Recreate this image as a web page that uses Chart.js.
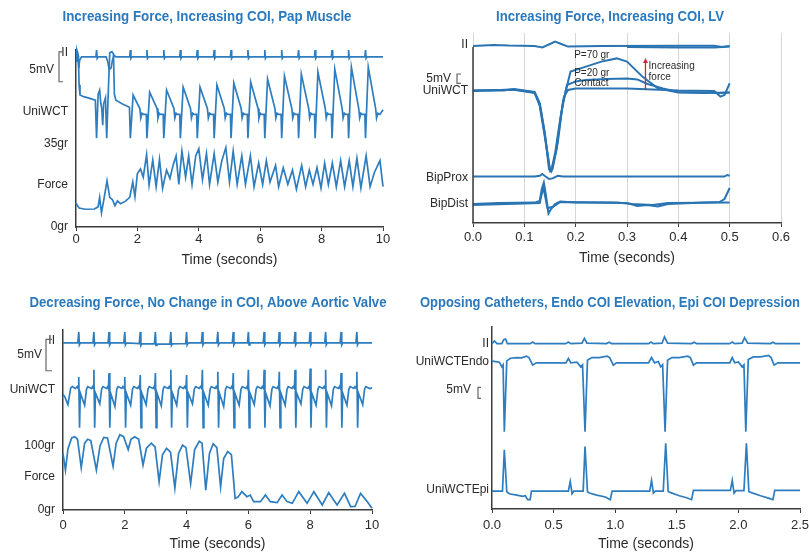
<!DOCTYPE html>
<html>
<head>
<meta charset="utf-8">
<title>Contact force and COI traces</title>
<script src="https://cdn.jsdelivr.net/npm/chart.js@4.4.0/dist/chart.umd.min.js"></script>
<style>
  body { margin: 0; background: #fff; }
  #page { position: relative; width: 809px; height: 553px; overflow: hidden; background: #fff; }
  canvas { position: absolute; }
</style>
</head>
<body>
<div id="page">
  <canvas id="pap" width="400" height="275" style="left:0;top:0"></canvas>
  <canvas id="lv" width="409" height="275" style="left:400px;top:0"></canvas>
  <canvas id="aortic" width="400" height="273" style="left:0;top:280px"></canvas>
  <canvas id="opposing" width="420" height="273" style="left:400px;top:280px"></canvas>
</div>
<script>
// Colours
const TRACE_BLUE = '#2d7dbf';
const TITLE_BLUE = '#2b79bd';
const AXIS_GREY = '#3c3c3c';
const TEXT_DARK = '#2a2a2a';
const ARROW_RED = '#c8283c';
const FONT = "'Liberation Sans', Arial, sans-serif";

// === Panel 1: Increasing Force, Increasing COI, Pap Muscle (time in s) ===
const papTitle = 'Increasing Force, Increasing COI, Pap Muscle';
const papTickValues = [73.4, 48.5, 35, 17.7, 0];
const papTickLabels = ['II', 'UniWCT', '35gr', 'Force', '0gr'];

const papII = [
  [0.00, 70.0], [0.03, 74.5], [0.06, 73.0], [0.09, 67.0], [0.12, 70.5], [0.18, 71.8],
  [0.65, 71.8], [0.67, 74.7], [0.69, 71.2], [0.72, 71.8],
  [0.98, 71.8], [1.03, 70.0], [1.08, 66.5], [1.14, 67.0], [1.19, 70.5], [1.24, 72.5], [1.30, 71.8],
  [1.75, 71.8], [1.77, 74.7], [1.79, 71.2], [1.82, 71.8],
  [2.29, 71.8], [2.31, 74.7], [2.33, 71.2], [2.36, 71.8],
  [2.84, 71.8], [2.86, 74.7], [2.88, 71.2], [2.91, 71.8],
  [3.38, 71.8], [3.40, 74.7], [3.42, 71.2], [3.45, 71.8],
  [3.93, 71.8], [3.95, 74.7], [3.97, 71.2], [4.00, 71.8],
  [4.48, 71.8], [4.50, 74.7], [4.52, 71.2], [4.55, 71.8],
  [5.03, 71.8], [5.05, 74.7], [5.07, 71.2], [5.10, 71.8],
  [5.58, 71.8], [5.60, 74.7], [5.62, 71.2], [5.65, 71.8],
  [6.13, 71.8], [6.15, 74.7], [6.17, 71.2], [6.20, 71.8],
  [6.68, 71.8], [6.70, 74.7], [6.72, 71.2], [6.75, 71.8],
  [7.23, 71.8], [7.25, 74.7], [7.27, 71.2], [7.30, 71.8],
  [7.77, 71.8], [7.79, 74.7], [7.81, 71.2], [7.84, 71.8],
  [8.32, 71.8], [8.34, 74.7], [8.36, 71.2], [8.39, 71.8],
  [8.86, 71.8], [8.88, 74.7], [8.90, 71.2], [8.93, 71.8],
  [9.41, 71.8], [9.43, 74.7], [9.45, 71.2], [9.48, 71.8],
  [10.0, 71.8]
];

const papUniWCT = [
  [0.00, 73.5], [0.04, 74.0], [0.08, 72.0], [0.10, 60.0], [0.13, 55.7], [0.25, 55.0], [0.45, 54.3], [0.63, 53.5],
  [0.67, 37.5], [0.72, 56.0], [0.77, 57.8], [0.81, 52.0], [0.84, 50.0], [0.87, 43.0], [0.90, 52.0], [0.96, 54.5],
  [1.00, 37.5], [1.06, 60.0], [1.10, 73.5], [1.17, 74.0], [1.22, 73.0], [1.25, 56.0], [1.30, 53.5], [1.50, 52.0], [1.74, 50.5],
  [1.77, 37.5], [1.86, 55.7], [2.08, 50.0], [2.11, 46.0], [2.15, 48.0], [2.20, 47.5], [2.29, 47.5],
  [2.31, 37.5], [2.40, 56.9], [2.64, 50.0], [2.67, 46.0], [2.71, 48.0], [2.76, 47.5], [2.84, 47.5],
  [2.86, 37.5], [2.95, 57.8], [3.19, 50.0], [3.22, 46.0], [3.26, 48.0], [3.31, 47.5], [3.38, 47.5],
  [3.40, 37.5], [3.49, 59.0], [3.73, 50.0], [3.76, 46.0], [3.80, 48.0], [3.85, 47.5], [3.93, 47.5],
  [3.95, 37.5], [4.04, 59.0], [4.28, 50.0], [4.31, 46.0], [4.35, 48.0], [4.40, 47.5], [4.48, 47.5],
  [4.50, 37.5], [4.59, 59.9], [4.83, 50.0], [4.86, 46.0], [4.90, 48.0], [4.95, 47.5], [5.03, 47.5],
  [5.05, 37.5], [5.14, 60.7], [5.38, 50.0], [5.41, 46.0], [5.45, 48.0], [5.50, 47.5], [5.58, 47.5],
  [5.60, 37.5], [5.69, 61.2], [5.93, 50.0], [5.96, 46.0], [6.00, 48.0], [6.05, 47.5], [6.13, 47.5],
  [6.15, 37.5], [6.24, 62.4], [6.48, 50.0], [6.51, 46.0], [6.55, 48.0], [6.60, 47.5], [6.68, 47.5],
  [6.70, 37.5], [6.79, 63.7], [7.03, 50.0], [7.06, 46.0], [7.10, 48.0], [7.15, 47.5], [7.23, 47.5],
  [7.25, 37.5], [7.34, 64.5], [7.58, 50.0], [7.61, 46.0], [7.65, 48.0], [7.70, 47.5], [7.77, 47.5],
  [7.79, 37.5], [7.88, 65.4], [8.12, 50.0], [8.15, 46.0], [8.19, 48.0], [8.24, 47.5], [8.32, 47.5],
  [8.34, 37.5], [8.43, 66.6], [8.67, 50.0], [8.70, 46.0], [8.74, 48.0], [8.79, 47.5], [8.86, 47.5],
  [8.88, 37.5], [8.97, 67.5], [9.21, 50.0], [9.24, 46.0], [9.28, 48.0], [9.33, 47.5], [9.41, 47.5],
  [9.43, 37.5], [9.52, 67.5], [9.76, 50.0], [9.79, 46.0], [9.83, 48.0], [9.90, 47.5], [10.0, 49.5]
];

const papForce = [
  [0.00, 10.0], [0.10, 8.0], [0.30, 7.5], [0.60, 7.6], [0.72, 8.5], [0.77, 12.5], [0.83, 6.0], [0.90, 11.0],
  [1.01, 19.5], [1.10, 12.5], [1.19, 11.5], [1.27, 9.0], [1.35, 11.0], [1.45, 9.8], [1.60, 10.8], [1.75, 12.5],
  [1.85, 19.0], [1.92, 12.8], [2.00, 22.6], [2.10, 24.5], [2.19, 21.0], [2.30, 30.5], [2.38, 17.7], [2.50, 28.3],
  [2.61, 17.0], [2.72, 28.5], [2.82, 16.3], [2.95, 24.0], [3.06, 20.5], [3.16, 26.0], [3.26, 30.0], [3.35, 18.0],
  [3.45, 32.0], [3.57, 21.0], [3.67, 30.0], [3.78, 18.0], [3.90, 30.0], [4.00, 33.0], [4.12, 20.0], [4.25, 31.0],
  [4.35, 18.0], [4.50, 31.0], [4.62, 19.0], [4.75, 28.0], [4.88, 33.5], [5.00, 19.0], [5.12, 32.0], [5.25, 18.0],
  [5.40, 30.0], [5.52, 18.0], [5.68, 30.0], [5.80, 17.0], [5.95, 27.0], [6.08, 18.0], [6.20, 28.0], [6.32, 19.0],
  [6.50, 26.0], [6.60, 17.0], [6.75, 25.0], [6.90, 18.0], [7.05, 24.0], [7.18, 16.0], [7.35, 26.0], [7.48, 17.0],
  [7.60, 24.0], [7.72, 18.0], [7.85, 25.0], [7.98, 16.5], [8.10, 27.0], [8.22, 18.0], [8.35, 27.0], [8.48, 17.0],
  [8.62, 28.0], [8.75, 17.0], [8.90, 28.0], [9.02, 17.0], [9.15, 29.0], [9.28, 16.5], [9.45, 30.0], [9.58, 17.0],
  [9.72, 23.0], [9.90, 28.0], [10.0, 17.0]
];

// === Panel 2: Increasing Force, Increasing COI, LV (time in s) ===
const lvTitle = 'Increasing Force, Increasing COI, LV';
const lvTickValues = [89, 66.2, 22.8, 9.5];
const lvTickLabels = ['II', 'UniWCT', 'BipProx', 'BipDist'];

const lvII = [
  [0.00, 88.5], [0.04, 89.0], [0.07, 88.7], [0.12, 88.5], [0.135, 87.8], [0.15, 89.5], [0.16, 90.7],
  [0.172, 89.5], [0.185, 88.2], [0.25, 88.5], [0.40, 88.6], [0.47, 88.6], [0.485, 88.0], [0.50, 88.5]
];
const lvII2 = [
  [0.30, 88.0], [0.40, 87.7], [0.47, 87.8], [0.50, 88.2]
];
const lvContact = [
  [0.00, 66.2], [0.06, 66.2], [0.08, 67.0], [0.10, 66.2], [0.12, 65.5], [0.13, 60.0], [0.14, 45.0],
  [0.148, 27.0], [0.152, 25.7], [0.16, 35.0], [0.17, 52.0], [0.177, 63.0], [0.185, 66.5], [0.20, 67.3],
  [0.30, 67.3], [0.35, 66.8], [0.40, 66.2], [0.47, 66.0], [0.482, 63.2], [0.49, 64.0], [0.50, 69.8]
];
const lvForce20 = [
  [0.00, 66.0], [0.08, 66.8], [0.12, 65.3], [0.13, 59.5], [0.14, 44.0], [0.15, 26.5], [0.153, 26.0],
  [0.162, 36.0], [0.172, 55.0], [0.183, 69.0], [0.20, 70.8], [0.22, 71.5], [0.26, 72.0], [0.30, 72.3],
  [0.32, 71.8], [0.34, 69.5], [0.37, 67.3], [0.40, 65.5], [0.45, 65.2], [0.48, 65.0], [0.50, 65.2]
];
const lvForce70 = [
  [0.00, 66.2], [0.08, 66.6], [0.12, 65.0], [0.13, 58.5], [0.14, 43.0], [0.15, 26.0], [0.155, 27.0],
  [0.165, 40.0], [0.175, 60.0], [0.19, 75.7], [0.22, 78.2], [0.25, 80.7], [0.28, 82.3], [0.30, 80.7],
  [0.33, 73.2], [0.36, 67.3], [0.40, 65.2], [0.45, 65.0], [0.50, 65.3]
];
const lvBipProx = [
  [0.00, 23.2], [0.12, 23.2], [0.13, 23.6], [0.135, 24.5], [0.14, 23.5], [0.148, 22.0], [0.155, 22.3],
  [0.165, 23.6], [0.175, 23.2], [0.49, 23.2], [0.495, 24.0], [0.50, 23.6]
];
const lvBipDist = [
  [0.00, 9.5], [0.05, 10.0], [0.12, 10.2], [0.13, 11.0], [0.134, 17.0], [0.138, 20.2], [0.142, 14.0],
  [0.147, 4.8], [0.152, 7.0], [0.16, 9.5], [0.17, 10.8], [0.20, 10.3], [0.30, 10.0], [0.32, 8.5],
  [0.34, 9.0], [0.36, 8.3], [0.38, 9.5], [0.45, 10.2], [0.48, 10.5], [0.49, 12.0], [0.50, 17.5]
];
const lvBipDist2 = [
  [0.00, 9.0], [0.13, 10.0], [0.137, 18.0], [0.145, 7.5], [0.155, 8.0], [0.17, 10.5], [0.28, 10.2],
  [0.31, 9.5], [0.35, 9.0], [0.38, 10.0], [0.50, 10.2]
];
const lvNoteText = ['P=70 gr', 'P=20 gr', 'Contact', 'Increasing', 'force'];
const lvNoteAt = [[0.197, 84.0], [0.197, 75.0], [0.197, 69.8], [0.342, 78.2], [0.342, 72.8]];
const lvArrow = [[0.336, 66.5], [0.336, 82.5]];

// === Panel 3: Decreasing Force, No Change in COI, Above Aortic Valve (time in s) ===
const aoTitle = 'Decreasing Force, No Change in COI, Above Aortic Valve';
const aoTickValues = [263.3, 186.6, 100, 51.8, 0];
const aoTickLabels = ['II', 'UniWCT', '100gr', 'Force', '0gr'];

const aoII = [
  [0.00, 260], [0.48, 260], [0.51, 277], [0.53, 257], [0.56, 260],
  [0.97, 260], [1.00, 277], [1.02, 257], [1.05, 260],
  [1.46, 260], [1.49, 277], [1.51, 257], [1.54, 260],
  [1.97, 260], [2.00, 277], [2.02, 257], [2.05, 260],
  [2.47, 259], [2.50, 277], [2.52, 256], [2.55, 258.5],
  [2.96, 258.5], [2.99, 277], [3.01, 256], [3.04, 258],
  [3.46, 258], [3.49, 277], [3.51, 256], [3.54, 258.5],
  [3.97, 259], [4.00, 277], [4.02, 257], [4.05, 260],
  [4.48, 260], [4.51, 277], [4.53, 257], [4.56, 260],
  [4.98, 260], [5.01, 277], [5.03, 257], [5.06, 260],
  [5.48, 260], [5.51, 277], [5.53, 257], [5.56, 260],
  [5.97, 260], [6.00, 277], [6.02, 257], [6.05, 260],
  [6.48, 260], [6.51, 277], [6.53, 257], [6.56, 260],
  [6.97, 260], [7.00, 277], [7.02, 257], [7.05, 260],
  [7.48, 260], [7.51, 277], [7.53, 257], [7.56, 260],
  [7.97, 260], [8.00, 277], [8.02, 257], [8.05, 260],
  [8.47, 260], [8.50, 277], [8.52, 257], [8.55, 260],
  [8.97, 260], [9.00, 277], [9.02, 257], [9.05, 260],
  [9.48, 260], [9.51, 277], [9.53, 257], [9.56, 260],
  [10.0, 260]
];

const aoUniWCT = [
  [0.00, 180], [0.06, 176], [0.16, 164], [0.25, 190], [0.30, 192], [0.40, 189], [0.46, 192], [0.49, 189],
  [0.51, 207], [0.535, 128], [0.56, 182], [0.70, 163], [0.76, 188], [0.80, 192], [0.92, 189], [0.96, 192], [0.98, 189],
  [1.00, 218], [1.025, 128], [1.05, 182], [1.19, 165], [1.25, 188], [1.29, 192], [1.41, 189], [1.45, 192], [1.47, 189],
  [1.49, 213], [1.515, 128], [1.54, 182], [1.68, 161], [1.74, 188], [1.78, 192], [1.90, 189], [1.94, 192], [1.98, 189],
  [2.00, 207], [2.025, 128], [2.05, 182], [2.19, 163], [2.25, 188], [2.29, 192], [2.41, 189], [2.45, 192], [2.48, 189],
  [2.50, 210], [2.525, 128], [2.55, 182], [2.69, 164], [2.75, 188], [2.79, 192], [2.91, 189], [2.95, 192], [2.97, 189],
  [2.99, 213], [3.015, 128], [3.04, 182], [3.18, 162], [3.24, 188], [3.28, 192], [3.40, 189], [3.44, 192], [3.47, 189],
  [3.49, 218], [3.515, 128], [3.54, 182], [3.68, 163], [3.74, 188], [3.78, 192], [3.90, 189], [3.94, 192], [3.98, 189],
  [4.00, 210], [4.025, 128], [4.05, 182], [4.19, 165], [4.25, 188], [4.29, 192], [4.41, 189], [4.45, 192], [4.49, 189],
  [4.51, 218], [4.535, 128], [4.56, 182], [4.70, 163], [4.76, 188], [4.80, 192], [4.92, 189], [4.96, 192], [4.99, 189],
  [5.01, 215], [5.035, 128], [5.06, 182], [5.20, 161], [5.26, 188], [5.30, 192], [5.42, 189], [5.46, 192], [5.49, 189],
  [5.51, 213], [5.535, 128], [5.56, 182], [5.70, 163], [5.76, 188], [5.80, 192], [5.92, 189], [5.96, 192], [5.98, 189],
  [6.00, 218], [6.025, 128], [6.05, 182], [6.19, 164], [6.25, 188], [6.29, 192], [6.41, 189], [6.45, 192], [6.49, 189],
  [6.51, 218], [6.535, 128], [6.56, 182], [6.70, 162], [6.76, 188], [6.80, 192], [6.92, 189], [6.96, 192], [6.98, 189],
  [7.00, 215], [7.025, 128], [7.05, 182], [7.19, 163], [7.25, 188], [7.29, 192], [7.41, 189], [7.45, 192], [7.49, 189],
  [7.51, 218], [7.535, 128], [7.56, 182], [7.70, 165], [7.76, 188], [7.80, 192], [7.92, 189], [7.96, 192], [7.98, 189],
  [8.00, 220], [8.025, 128], [8.05, 182], [8.19, 163], [8.25, 188], [8.29, 192], [8.41, 189], [8.45, 192], [8.48, 189],
  [8.50, 218], [8.525, 128], [8.55, 182], [8.69, 162], [8.75, 188], [8.79, 192], [8.91, 189], [8.95, 192], [8.98, 189],
  [9.00, 213], [9.025, 128], [9.05, 182], [9.19, 163], [9.25, 188], [9.29, 192], [9.41, 189], [9.45, 192], [9.49, 189],
  [9.51, 215], [9.535, 128], [9.56, 182], [9.70, 164], [9.76, 188], [9.80, 192], [9.92, 189], [10.0, 190]
];

const aoForce = [
  [0.00, 88], [0.08, 62], [0.16, 95], [0.28, 112], [0.38, 114], [0.47, 110], [0.59, 66],
  [0.70, 104], [0.80, 110], [0.90, 108], [1.08, 62],
  [1.20, 100], [1.32, 113], [1.44, 112], [1.62, 68],
  [1.72, 104], [1.84, 117], [1.96, 114], [2.11, 94],
  [2.20, 110], [2.32, 114], [2.45, 110], [2.59, 70],
  [2.70, 96], [2.86, 104], [2.98, 98], [3.11, 44],
  [3.22, 86], [3.35, 96], [3.48, 90], [3.62, 34],
  [3.74, 88], [3.87, 101], [3.98, 97], [4.13, 41],
  [4.26, 94], [4.41, 107], [4.50, 104], [4.62, 31],
  [4.74, 88], [4.86, 103], [4.98, 97], [5.10, 36],
  [5.20, 80], [5.33, 91], [5.45, 86], [5.57, 18],
  [5.66, 20], [5.79, 28.5], [5.95, 20.7], [6.06, 23.3], [6.17, 13], [6.39, 13], [6.55, 23.3],
  [6.71, 13], [6.93, 11.4], [7.09, 23.3], [7.25, 13], [7.42, 10.4], [7.63, 28.5], [7.90, 10.4],
  [8.12, 28.5], [8.39, 7.8], [8.60, 26.9], [8.87, 7.8], [9.11, 25.9], [9.31, 5.2], [9.45, 5.5],
  [9.63, 25.9], [9.85, 13], [10.0, 2.6]
];

// === Panel 4: Opposing Catheters, Endo COI Elevation, Epi COI Depression (time in s) ===
const opTitle = 'Opposing Catheters, Endo COI Elevation, Epi COI Depression';
const opTickValues = [124.5, 110.7, 14.5];
const opTickLabels = ['II', 'UniWCTEndo', 'UniWCTEpi'];

const opII = [
  [0.00, 124.5], [0.02, 126.5], [0.04, 124.5], [0.08, 124.5], [0.095, 127.5], [0.11, 128.0], [0.125, 124.5],
  [0.31, 124.5], [0.33, 125.7], [0.35, 124.5], [0.60, 124.5], [0.62, 125.7], [0.64, 124.5],
  [0.73, 124.8], [0.75, 128.5], [0.77, 124.8], [0.93, 124.5], [0.95, 125.5], [0.97, 124.5],
  [1.27, 124.5], [1.29, 125.7], [1.31, 124.5], [1.38, 124.8], [1.40, 129.5], [1.425, 124.8],
  [1.62, 124.5], [1.64, 125.5], [1.66, 124.5], [1.93, 124.5], [1.95, 125.7], [1.97, 124.5],
  [2.03, 124.8], [2.05, 129.0], [2.075, 124.8], [2.26, 124.5], [2.28, 125.5], [2.30, 124.5], [2.50, 124.5]
];

const opEndo = [
  [0.00, 111.3], [0.03, 111.0], [0.06, 110.5], [0.08, 107.0], [0.09, 108.5], [0.10, 58.2], [0.12, 111.5],
  [0.15, 113.5], [0.20, 114.0], [0.24, 113.8], [0.28, 115.0], [0.30, 114.0], [0.33, 108.3], [0.36, 110.0],
  [0.60, 110.0], [0.62, 113.3], [0.64, 110.0], [0.69, 110.5], [0.72, 107.0], [0.735, 108.5], [0.755, 58.2],
  [0.775, 112.0], [0.81, 114.0], [0.87, 114.0], [0.935, 115.0], [0.955, 114.0], [0.985, 108.3], [1.01, 110.0],
  [1.27, 110.0], [1.295, 114.0], [1.32, 110.0], [1.35, 111.0], [1.37, 107.0], [1.385, 108.5], [1.405, 58.2],
  [1.425, 112.0], [1.46, 114.0], [1.52, 114.0], [1.59, 115.0], [1.61, 114.0], [1.635, 108.3], [1.66, 110.0],
  [1.93, 110.0], [1.95, 114.0], [1.97, 110.0], [2.00, 110.7], [2.03, 107.0], [2.045, 108.5], [2.06, 58.2],
  [2.08, 112.5], [2.12, 114.5], [2.18, 114.5], [2.245, 115.7], [2.265, 114.0], [2.29, 108.3], [2.32, 110.0],
  [2.50, 110.0]
];

const opEpi = [
  [0.00, 13.5], [0.085, 13.5], [0.10, 44.5], [0.12, 13.0], [0.14, 11.5], [0.20, 10.5], [0.25, 9.5],
  [0.27, 10.0], [0.29, 7.0], [0.31, 7.0], [0.32, 13.5], [0.62, 13.5], [0.635, 20.7], [0.65, 11.5],
  [0.665, 13.5], [0.74, 13.5], [0.755, 47.0], [0.775, 13.0], [0.79, 12.0], [0.85, 10.5], [0.92, 9.0],
  [0.96, 7.0], [0.975, 13.5], [1.28, 13.5], [1.295, 21.5], [1.31, 12.0], [1.325, 13.5], [1.39, 13.5],
  [1.41, 49.5], [1.43, 13.2], [1.445, 12.5], [1.52, 10.0], [1.58, 8.5], [1.62, 7.0], [1.635, 14.0],
  [1.935, 14.0], [1.95, 21.5], [1.965, 12.0], [1.98, 13.8], [2.045, 13.8], [2.065, 49.5], [2.085, 13.2],
  [2.10, 12.5], [2.18, 10.0], [2.25, 8.0], [2.28, 7.0], [2.295, 14.0], [2.50, 14.0]
];

// === Plugin: titles, 5mV brackets, notes and arrow ===
const tracePanelExtras = {
  id: 'tracePanelExtras',
  afterDraw(chart, args, opts) {
    const ctx = chart.ctx;
    const xs = chart.scales.x;
    const ys = chart.scales.y;
    ctx.save();

    // panel title, squeezed to the width it takes in the figure
    if (opts.title) {
      ctx.fillStyle = TITLE_BLUE;
      ctx.font = "bold 14px 'Liberation Sans', Arial, sans-serif";
      ctx.textAlign = 'center';
      ctx.textBaseline = 'middle';
      ctx.fillText(opts.title, opts.titleX, opts.titleY, opts.titleWidth);
    }

    // y axis line (only where it starts lower than the chart area)
    if (opts.axisTop !== undefined) {
      ctx.strokeStyle = AXIS_GREY;
      ctx.lineWidth = 1.5;
      ctx.beginPath();
      ctx.moveTo(chart.chartArea.left, ys.getPixelForValue(opts.axisTop));
      ctx.lineTo(chart.chartArea.left, chart.chartArea.bottom);
      ctx.stroke();
    }

    // 5mV scale bracket
    if (opts.bracket) {
      const b = opts.bracket;
      const top = ys.getPixelForValue(b.from);
      const bottom = ys.getPixelForValue(b.to);
      ctx.strokeStyle = '#666';
      ctx.lineWidth = 1.2;
      ctx.beginPath();
      ctx.moveTo(b.x + b.arm, top);
      ctx.lineTo(b.x, top);
      ctx.lineTo(b.x, bottom);
      ctx.lineTo(b.x + b.arm, bottom);
      ctx.stroke();
      ctx.fillStyle = TEXT_DARK;
      ctx.font = '12px ' + FONT;
      ctx.textAlign = 'right';
      ctx.textBaseline = 'middle';
      ctx.fillText(b.text, b.textX, ys.getPixelForValue(b.textAt));
    }

    // small text notes placed in data space
    if (opts.notes) {
      ctx.fillStyle = TEXT_DARK;
      ctx.font = '10px ' + FONT;
      ctx.textAlign = 'left';
      ctx.textBaseline = 'middle';
      opts.notes.text.forEach((t, i) => {
        const at = opts.notes.at[i];
        ctx.fillText(t, xs.getPixelForValue(at[0]), ys.getPixelForValue(at[1]));
      });
    }

    if (opts.arrow) {
      const x0 = xs.getPixelForValue(opts.arrow[0][0]);
      const y0 = ys.getPixelForValue(opts.arrow[0][1]);
      const x1 = xs.getPixelForValue(opts.arrow[1][0]);
      const y1 = ys.getPixelForValue(opts.arrow[1][1]);
      ctx.strokeStyle = ARROW_RED;
      ctx.fillStyle = ARROW_RED;
      ctx.lineWidth = 1.3;
      ctx.beginPath();
      ctx.moveTo(x0, y0);
      ctx.lineTo(x1, y1 + 4);
      ctx.stroke();
      ctx.beginPath();
      ctx.moveTo(x1, y1);
      ctx.lineTo(x1 - 2.5, y1 + 5);
      ctx.lineTo(x1 + 2.5, y1 + 5);
      ctx.closePath();
      ctx.fill();
    }
    ctx.restore();
  }
};

// === Chart builder ===
function toXY(points) {
  return points.map(p => ({ x: p[0], y: p[1] }));
}

function buildPanel(canvasId, panel) {
  const ctx = document.getElementById(canvasId).getContext('2d');
  return new Chart(ctx, {
    type: 'line',
    data: {
      datasets: panel.traces.map(tr => ({
        data: toXY(tr),
        borderColor: panel.lineColor,
        borderWidth: panel.lineWidth,
        pointRadius: 0,
        tension: 0,
        fill: false,
        clip: false
      }))
    },
    options: {
      responsive: false,
      animation: false,
      events: [],
      layout: { padding: { left: 0, right: panel.padRight, top: panel.padTop, bottom: 0 } },
      plugins: {
        legend: { display: false },
        tooltip: { enabled: false },
        title: { display: false },
        tracePanelExtras: panel.extras
      },
      scales: {
        x: {
          type: 'linear',
          min: panel.xMin,
          max: panel.xMax,
          afterFit: s => { s.height = panel.xHeight; },
          ticks: {
            stepSize: panel.xStep,
            autoSkip: false,
            maxRotation: 0,
            padding: panel.xTickPad,
            color: TEXT_DARK,
            font: { family: FONT, size: 13 },
            callback: v => v.toFixed(panel.xDecimals)
          },
          grid: {
            drawOnChartArea: !!panel.vGrid,
            color: panel.vGrid ? '#d6d6d6' : AXIS_GREY,
            lineWidth: 1,
            drawTicks: true,
            tickLength: 4,
            tickColor: AXIS_GREY
          },
          border: { display: true, color: AXIS_GREY, width: 1.5 },
          title: {
            display: true,
            text: 'Time (seconds)',
            color: TEXT_DARK,
            font: { family: FONT, size: 14 },
            padding: { top: 0, bottom: panel.xTitlePad }
          }
        },
        y: {
          type: 'linear',
          min: panel.yMin,
          max: panel.yMax,
          afterFit: s => { s.width = panel.yWidth; },
          afterBuildTicks: s => { s.ticks = panel.tickValues.map(v => ({ value: v })); },
          ticks: {
            autoSkip: false,
            padding: panel.yTickPad,
            color: TEXT_DARK,
            font: { family: FONT, size: 12 },
            callback: v => panel.tickLabels[panel.tickValues.indexOf(v)]
          },
          grid: { display: false, drawTicks: false },
          border: { display: panel.extras.axisTop === undefined, color: AXIS_GREY, width: 1.5 }
        }
      }
    },
    plugins: [tracePanelExtras]
  });
}

buildPanel('pap', {
  traces: [papII, papUniWCT, papForce],
  lineColor: TRACE_BLUE, lineWidth: 1.7,
  xMin: 0, xMax: 10, xStep: 2, xDecimals: 0,
  yMin: 0, yMax: 74.7,
  tickValues: papTickValues, tickLabels: papTickLabels,
  padTop: 50, padRight: 17, yWidth: 76, xHeight: 48,
  xTickPad: 1, xTitlePad: 6, yTickPad: 8,
  extras: {
    title: papTitle, titleX: 207, titleY: 17, titleWidth: 289,
    bracket: { from: 73.9, to: 61.3, x: 59, arm: 4, text: '5mV', textX: 54, textAt: 66.2 }
  }
});

buildPanel('lv', {
  traces: [lvII, lvII2, lvContact, lvForce20, lvForce70, lvBipProx, lvBipDist, lvBipDist2],
  lineColor: '#2a74b2', lineWidth: 2,
  xMin: 0, xMax: 0.6, xStep: 0.1, xDecimals: 1,
  yMin: 0, yMax: 95,
  tickValues: lvTickValues, tickLabels: lvTickLabels,
  padTop: 33, padRight: 28, yWidth: 73, xHeight: 52,
  xTickPad: 3, xTitlePad: 8, yTickPad: 5, vGrid: true,
  extras: {
    title: lvTitle, titleX: 210, titleY: 17, titleWidth: 228,
    axisTop: 88,
    bracket: { from: 74.5, to: 69.8, x: 57, arm: 4, text: '5mV', textX: 51, textAt: 72 },
    notes: { text: lvNoteText, at: lvNoteAt },
    arrow: lvArrow
  }
});

buildPanel('aortic', {
  traces: [aoII, aoUniWCT, aoForce],
  lineColor: TRACE_BLUE, lineWidth: 1.7,
  xMin: 0, xMax: 10, xStep: 2, xDecimals: 0,
  yMin: 0, yMax: 280,
  tickValues: aoTickValues, tickLabels: aoTickLabels,
  padTop: 50, padRight: 28, yWidth: 63, xHeight: 43,
  xTickPad: 4, xTitlePad: 0, yTickPad: 8,
  extras: {
    title: aoTitle, titleX: 208, titleY: 23, titleWidth: 357,
    bracket: { from: 265.5, to: 216.6, x: 46, arm: 6, text: '5mV', textX: 42, textAt: 241 }
  }
});

// this canvas runs past the page edge so the last tick label is cut like in the figure
buildPanel('opposing', {
  traces: [opII, opEndo, opEpi],
  lineColor: TRACE_BLUE, lineWidth: 1.7,
  xMin: 0, xMax: 2.5, xStep: 0.5, xDecimals: 1,
  yMin: 0, yMax: 137,
  tickValues: opTickValues, tickLabels: opTickLabels,
  padTop: 47, padRight: 20, yWidth: 92, xHeight: 44,
  xTickPad: 5, xTitlePad: 0, yTickPad: 3,
  extras: {
    title: opTitle, titleX: 210, titleY: 23, titleWidth: 380,
    bracket: { from: 91.5, to: 83.3, x: 78, arm: 3, text: '5mV', textX: 71, textAt: 89.5 }
  }
});
</script>
</body>
</html>
